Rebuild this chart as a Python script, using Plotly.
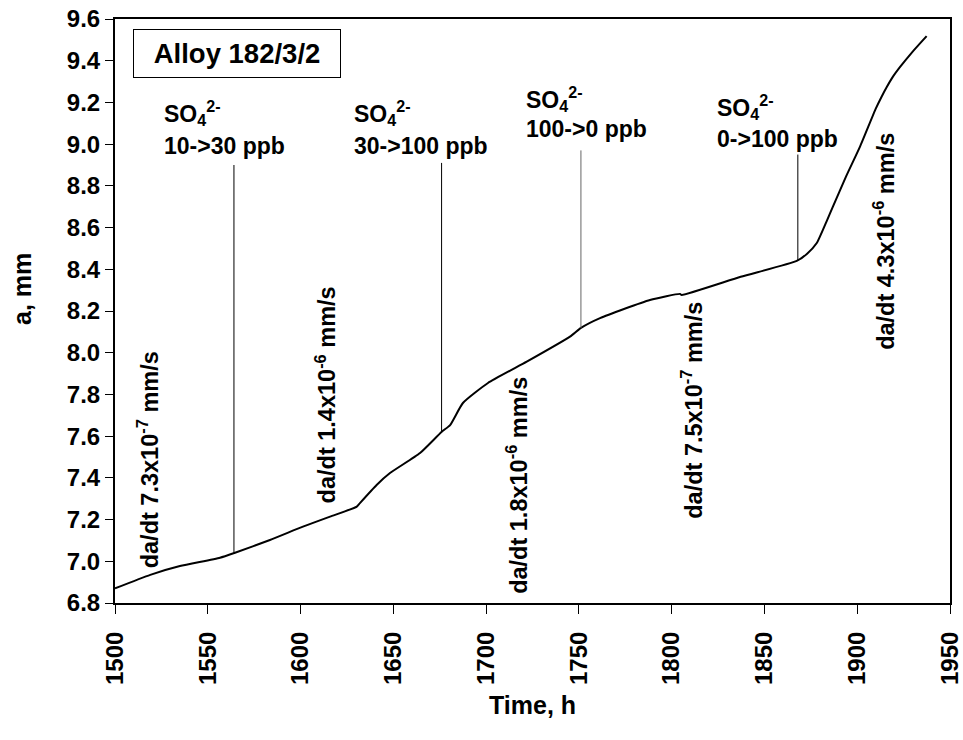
import numpy as np
import plotly.graph_objects as go

# ---- data ----
time_h = [1500, 1519, 1535, 1556.6, 1564.7, 1583.5, 1601.3, 1615.9, 1630.3, 1632.0,
          1641.0, 1648.2, 1664.4, 1676.1, 1680.6, 1687.5, 1701.0, 1721.9, 1745.2,
          1751.1, 1761.4, 1788.3, 1804.5, 1805.4, 1837.2, 1867.4, 1873.0, 1878.2,
          1883.5, 1886.9, 1894.0, 1901.5, 1910.0, 1913.0, 1916.0, 1919.0, 1923.1,
          1930.0, 1937.4]
crack_mm = [6.870, 6.935, 6.977, 7.017, 7.041, 7.102, 7.166, 7.214, 7.262, 7.279,
            7.366, 7.423, 7.519, 7.621, 7.653, 7.759, 7.855, 7.957, 8.077,
            8.119, 8.166, 8.253, 8.282, 8.277, 8.364, 8.440, 8.475, 8.526,
            8.630, 8.700, 8.845, 8.988, 9.170, 9.225, 9.275, 9.320, 9.370,
            9.445, 9.518]

event_times = [1564.1, 1676.0, 1751.1, 1868.0]
event_bottom = [7.041, 7.621, 8.119, 8.440]
event_top = [8.90, 8.91, 8.97, 8.95]
event_colors = ["#000000", "#000000", "#666666", "#000000"]
event_changes = ["10->30 ppb", "30->100 ppb", "100->0 ppb", "0->100 ppb"]
label_x = [1525.4, 1627.8, 1720.5, 1823.4]
label_y_species = [9.150, 9.150, 9.215, 9.176]
label_y_change = [8.990, 8.990, 9.072, 9.024]

rate_texts = ["da/dt 7.3x10<sup>-7</sup> mm/s", "da/dt 1.4x10<sup>-6</sup> mm/s",
              "da/dt 1.8x10<sup>-6</sup> mm/s", "da/dt 7.5x10<sup>-7</sup> mm/s",
              "da/dt 4.3x10<sup>-6</sup> mm/s"]
rate_x = [1518.0, 1613.7, 1716.6, 1811.0, 1914.4]
rate_y = [7.486, 7.800, 7.366, 7.722, 8.536]

x_ticks = [1500, 1550, 1600, 1650, 1700, 1750, 1800, 1850, 1900, 1950]
y_ticks = [6.8, 7.0, 7.2, 7.4, 7.6, 7.8, 8.0, 8.2, 8.4, 8.6, 8.8, 9.0, 9.2, 9.4, 9.6]

FONT = "Liberation Sans, Arial, sans-serif"

fig = go.Figure()
fig.add_trace(go.Scatter(x=time_h, y=crack_mm, mode="lines",
                         line=dict(color="black", width=2, shape="spline", smoothing=0.5),
                         showlegend=False))
for t, b, tp, c in zip(event_times, event_bottom, event_top, event_colors):
    fig.add_trace(go.Scatter(x=[t, t], y=[b, tp], mode="lines",
                             line=dict(color=c, width=1), showlegend=False))

ann = []
ann.append(dict(x=1565.7, y=9.435, xref="x", yref="y", text="Alloy 182/3/2",
                showarrow=False, font=dict(family=FONT, size=27.5, color="black", weight="bold"),
                bordercolor="black", borderwidth=1, borderpad=6, width=194, height=35,
                align="center", xanchor="center", yanchor="middle"))
for lx, ys, yc, ch in zip(label_x, label_y_species, label_y_change, event_changes):
    ann.append(dict(x=lx, y=ys, xref="x", yref="y", text="SO<sub>4</sub><sup>2-</sup>",
                    showarrow=False, xanchor="left", yanchor="middle",
                    font=dict(family=FONT, size=23, color="black", weight="bold")))
    ann.append(dict(x=lx, y=yc, xref="x", yref="y", text=ch,
                    showarrow=False, xanchor="left", yanchor="middle",
                    font=dict(family=FONT, size=23, color="black", weight="bold")))
for tx, rx, ry in zip(rate_texts, rate_x, rate_y):
    ann.append(dict(x=rx, y=ry, xref="x", yref="y", text=tx, textangle=-90,
                    showarrow=False, xanchor="center", yanchor="middle",
                    font=dict(family=FONT, size=23.5, color="black", weight="bold")))
# axis titles
ann.append(dict(x=-0.1114, y=0.5377, xref="paper", yref="paper", text="a, mm",
                textangle=-90, showarrow=False, xanchor="center", yanchor="middle",
                font=dict(family=FONT, size=25, color="black", weight="bold")))
ann.append(dict(x=0.5, y=-0.1747, xref="paper", yref="paper", text="Time, h",
                showarrow=False, xanchor="center", yanchor="middle",
                font=dict(family=FONT, size=25, color="black", weight="bold")))

fig.update_layout(
    width=963, height=740,
    margin=dict(l=115, r=13, t=19, b=137, autoexpand=False),
    paper_bgcolor="white", plot_bgcolor="white",
    annotations=ann,
    font=dict(family=FONT, color="black"),
)
fig.update_xaxes(range=[1500, 1950], tickvals=x_ticks, ticktext=[str(v) for v in x_ticks],
                 tickangle=-90, ticks="outside", ticklen=9, tickwidth=1, tickcolor="black",
                 ticklabelstandoff=8,
                 showline=True, linecolor="black", linewidth=2, mirror=True,
                 showgrid=False, zeroline=False,
                 tickfont=dict(family=FONT, size=24, color="black", weight="bold"))
fig.update_yaxes(range=[6.8, 9.6], tickvals=y_ticks, ticktext=["%.1f" % v for v in y_ticks],
                 ticks="outside", ticklen=8, tickwidth=1, tickcolor="black",
                 showline=True, linecolor="black", linewidth=2, mirror=True,
                 showgrid=False, zeroline=False,
                 tickfont=dict(family=FONT, size=24, color="black", weight="bold"))

fig.write_html("out.html")
